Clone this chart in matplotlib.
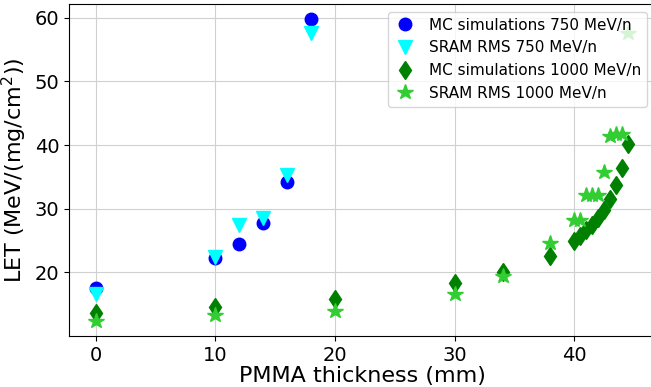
import matplotlib
matplotlib.use("Agg")
import matplotlib.pyplot as plt

# MC simulations, 750 MeV/n
x_mc750 = [0, 10, 12, 14, 16, 18]
y_mc750 = [17.6, 22.3, 24.5, 27.8, 34.2, 59.8]

# SRAM RMS, 750 MeV/n
x_sram750 = [0, 10, 12, 14, 16, 18]
y_sram750 = [16.6, 22.5, 27.5, 28.6, 35.3, 57.6]

# MC simulations, 1000 MeV/n
x_mc1000 = [0, 10, 20, 30, 34, 38, 40, 40.5, 41, 41.5, 42, 42.5, 43, 43.5, 44, 44.5]
y_mc1000 = [13.7, 14.5, 15.8, 18.3, 20.0, 22.6, 25.0, 25.7, 26.6, 27.5, 28.5, 29.8, 31.6, 33.7, 36.4, 40.2]

# SRAM RMS, 1000 MeV/n
x_sram1000 = [0, 10, 20, 30, 34, 38, 40, 40.5, 41, 41.5, 42, 42.5, 43, 43.5, 44, 44.5]
y_sram1000 = [12.4, 13.3, 13.9, 16.6, 19.5, 24.6, 28.2, 28.3, 32.1, 32.2, 32.2, 35.8, 41.5, 41.8, 41.8, 57.6]

fig = plt.figure(figsize=(6.51, 3.87), dpi=100)
ax = fig.add_axes([0.106, 0.132, 0.9, 0.858])

ms = 8.5
ax.plot(x_mc750, y_mc750, 'o', color='blue', ms=ms + 0.5, label='MC simulations 750 MeV/n')
ax.plot(x_sram750, y_sram750, 'v', color='cyan', ms=ms + 1, label='SRAM RMS 750 MeV/n')
ax.plot(x_mc1000, y_mc1000, 'd', color='green', ms=ms + 1, label='MC simulations 1000 MeV/n')
ax.plot(x_sram1000, y_sram1000, '*', color='limegreen', ms=ms + 3, label='SRAM RMS 1000 MeV/n')

ax.set_xlabel('PMMA thickness (mm)', fontsize=16, labelpad=1)
ax.set_ylabel('LET (MeV/(mg/cm$^2$))', fontsize=16)
ax.tick_params(labelsize=14)
ax.set_xticks([0, 10, 20, 30, 40])
ax.set_yticks([20, 30, 40, 50, 60])
ax.grid(True, color='#d0d0d0')
ax.set_axisbelow(True)
ax.legend(loc='upper right', fontsize=11, borderaxespad=0.5, handlelength=1.5)

fig.savefig('out.png', dpi=100)
